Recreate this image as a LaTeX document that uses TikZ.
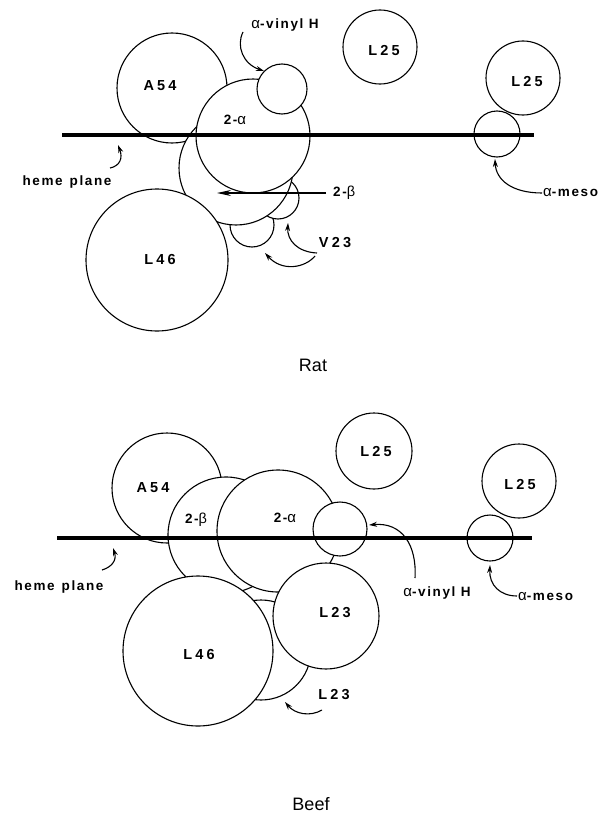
\documentclass[tikz,border=0pt]{standalone}
\usepackage{fontspec}
\setmainfont{Liberation Sans}
\newfontfamily\labfont[LetterSpace=12]{Liberation Sans}
\newfontfamily\resfont[LetterSpace=22]{Liberation Sans}
\usetikzlibrary{arrows.meta}
\newcommand\myalpha{{\mdseries\fontsize{15}{14}\selectfont α}}
\newcommand\mybeta{{\mdseries\fontsize{14.5}{14}\selectfont β}}
\tikzset{
  ball/.style={circle, draw, fill=white, inner sep=0pt, line width=1.1pt},
  plane/.style={line width=4.5pt},
  lab/.style={font=\labfont\bfseries\fontsize{13.5}{14}\selectfont, inner sep=0pt},
  res/.style={font=\resfont\bfseries\fontsize{14.5}{14}\selectfont, inner sep=0pt},
  panelcap/.style={font=\fontsize{18}{20}\selectfont, inner sep=0pt},
  arr/.style={line width=1.1pt, -{Stealth[length=8pt,width=5pt]}},
  longarr/.style={line width=1.1pt, -{Stealth[length=14pt,width=6pt]}},
}
\begin{document}
\begin{tikzpicture}[x=1pt,y=-1pt]
\useasboundingbox (0,0) rectangle (599,816);
% ---------------- Rat ----------------
\node[ball, minimum size=110pt] (rA54) at (172,88) {};
\node[ball, minimum size=44pt] (rV23a) at (252,225) {};
\node[ball, minimum size=42pt] (rV23b) at (278,198) {};
\node[ball, minimum size=114pt] (rB) at (236,168) {};
\node[ball, minimum size=142pt] (rL46) at (157,260) {};
\node[ball, minimum size=114pt] (rA) at (253,136) {};
\node[ball, minimum size=50pt] (rVin) at (282,89) {};
\node[ball, minimum size=74pt] (rL25a) at (380,47) {};
\node[ball, minimum size=74pt] (rL25b) at (523,78) {};
\node[ball, minimum size=46pt] (rMeso) at (497,134) {};
\draw[plane] (62,135) -- (534,135);

\node[res] (rlA54) at (160,86) {A54};
\node[lab] (rl2a) at (235,120) {2-\myalpha};
\node[res] (rlL46) at (160,260) {L46};
\node[res] (rlL25a) at (384,51) {L25};
\node[res] (rlL25b) at (527,82) {L25};
\node[lab] (rlvin) at (285,25) {\myalpha-vinyl H};
\node[lab] (rlheme) at (67,182) {heme\hspace{7pt}plane};
\node[lab, anchor=west] (rl2b) at (333,193) {2-\mybeta};
\node[res] (rlV23) at (335,243) {V23};
\node[lab, anchor=west] (rlmeso) at (543,193) {\myalpha-meso};
\node[panelcap] (rlRat) at (313,365) {Rat};

\coordinate (rvs) at (243,32);
\draw[arr] (rvs) .. controls (236,46) and (243,64) .. (rVin.135);
\coordinate (rhs) at (110,168);
\coordinate (rht) at (118,145);
\draw[arr] (rhs) .. controls (120,166) and (123,158) .. (rht);
\coordinate (r2bs) at (326,193);
\coordinate (r2bt) at (217,193);
\draw[longarr] (r2bs) -- (r2bt);
\coordinate (rvas) at (317,253);
\coordinate (rvat) at (288,223);
\draw[arr] (rvas) .. controls (297,252) and (287,240) .. (rvat);
\coordinate (rvbs) at (315,256);
\coordinate (rvbt) at (265,253);
\draw[arr] (rvbs) .. controls (305,268) and (282,272) .. (rvbt);
\coordinate (rms) at (542,193);
\coordinate (rmt) at (495,159);
\draw[arr] (rms) .. controls (512,193) and (496,180) .. (rmt);

% ---------------- Beef ----------------
\node[ball, minimum size=100pt] (bL23s) at (261,650) {};
\node[ball, minimum size=110pt] (bA54) at (167,488) {};
\node[ball, minimum size=116pt] (bB) at (226,535) {};
\node[ball, minimum size=122pt] (bA) at (278,531) {};
\node[ball, minimum size=106pt] (bL23) at (326,616) {};
\node[ball, minimum size=150pt] (bL46) at (198,651) {};
\node[ball, minimum size=54pt] (bVin) at (340,529) {};
\node[ball, minimum size=76pt] (bL25a) at (374,451) {};
\node[ball, minimum size=74pt] (bL25b) at (519,481) {};
\node[ball, minimum size=46pt] (bMeso) at (490,538) {};
\draw[plane] (57,538) -- (532,538);

\node[res] (blA54) at (153,488) {A54};
\node[lab] (bl2b) at (196,520) {2-\mybeta};
\node[lab] (bl2a) at (285,518) {2-\myalpha};
\node[res] (blL25a) at (376,452) {L25};
\node[res] (blL25b) at (520,485) {L25};
\node[res] (blL23) at (335,613) {L23};
\node[res] (blL46) at (199,655) {L46};
\node[lab] (blheme) at (59,587) {heme\hspace{7pt}plane};
\node[lab] (blvin) at (437,593) {\myalpha-vinyl H};
\node[lab, anchor=west] (blmeso) at (518,597) {\myalpha-meso};
\node[res] (blL23b) at (334,695) {L23};
\node[panelcap] (blBeef) at (311,804) {Beef};

\coordinate (bhs) at (102,570);
\coordinate (bht) at (113,548);
\draw[arr] (bhs) .. controls (112,567) and (117,560) .. (bht);
\coordinate (bvs) at (415,578);
\coordinate (bvt) at (369,525);
\draw[arr] (bvs) .. controls (417,545) and (402,522) .. (bvt);
\coordinate (bms) at (517,596);
\coordinate (bmt) at (490,565);
\draw[arr] (bms) .. controls (500,596) and (489,585) .. (bmt);
\coordinate (bls) at (322,710);
\coordinate (blt) at (285,702);
\draw[arr] (bls) .. controls (310,717) and (295,714) .. (blt);
\end{tikzpicture}
\end{document}
